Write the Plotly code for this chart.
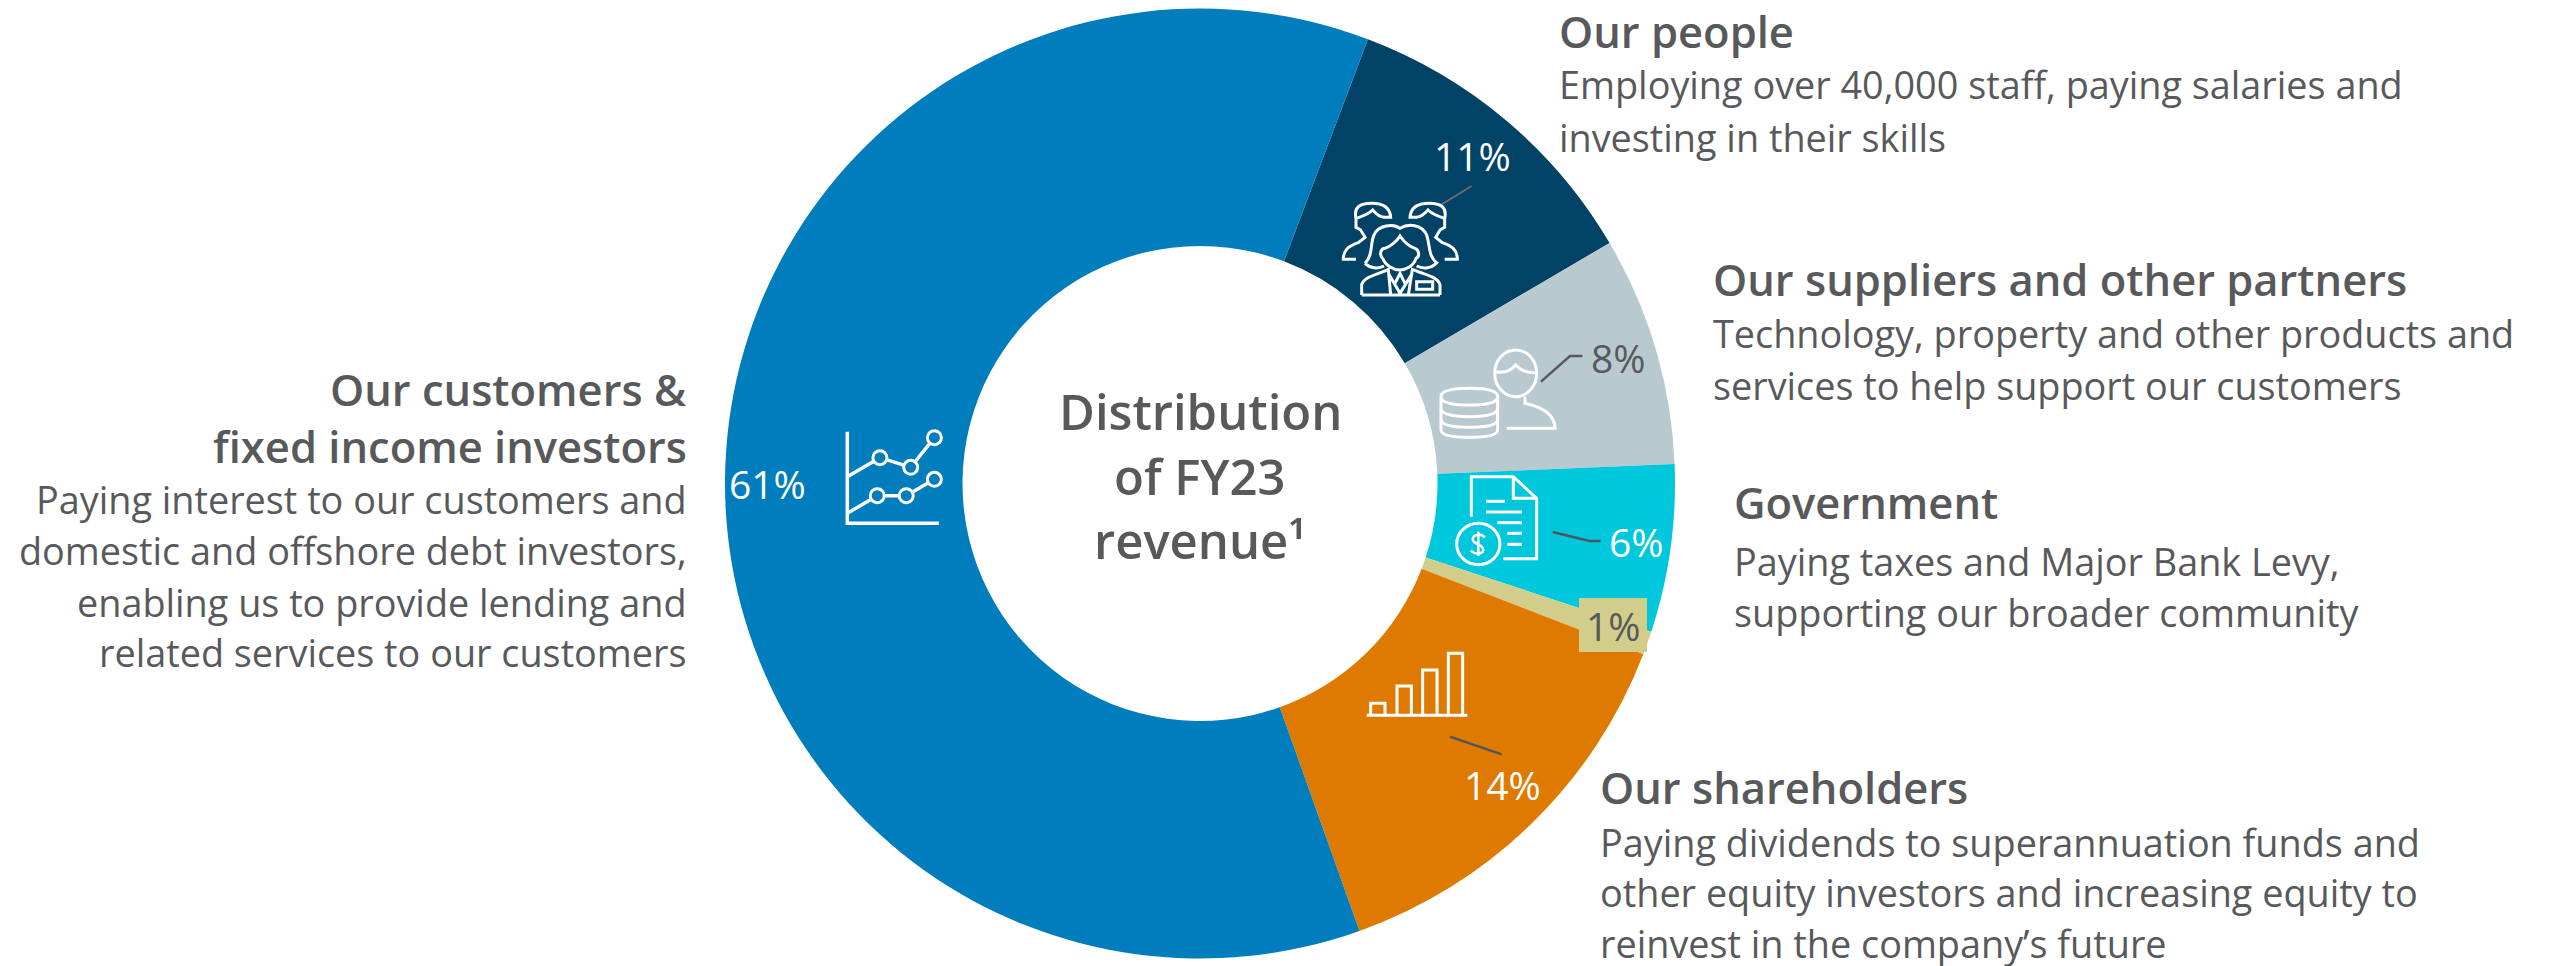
import re
import plotly.graph_objects as go

W, H = 2557, 966
categories = ["Our people", "Our suppliers and other partners", "Government", "Community", "Our shareholders", "Our customers & fixed income investors"]
values = [10.8, 7.8, 5.7, 0.8, 13.7, 61.2]
colors = ["#014367", "#B9C9D0", "#00C8DC", "#D3CD8B", "#DF7A00", "#007DBC"]
START_ANGLE = 20.7
TXT = "#58595B"
FONT = "Open Sans"
HEAD, BODY = 43.5, 37.8

def X(x): return x / W
def Y(y): return 1 - y / H

fig = go.Figure(go.Pie(
    labels=categories, values=values, sort=False, direction="clockwise", rotation=START_ANGLE,
    hole=0.5, textinfo="none", hoverinfo="label+percent",
    marker=dict(colors=colors, line=dict(width=0)),
    domain=dict(x=[X(725), X(1675)], y=[Y(958.5), Y(8.5)]), showlegend=False))

ann, shp = [], []

def text(s, x, y, size, color=TXT, anchor="left", weight=400):
    ann.append(dict(text=s, x=X(x), y=Y(y), xref="paper", yref="paper", xanchor=anchor, yanchor="middle",
                    showarrow=False, align=anchor, font=dict(size=size, color=color, family=FONT, weight=weight),
                    borderpad=0, borderwidth=0))

headings = [
    ("Our people", 1559, 32, "left"),
    ("Our suppliers and other partners", 1713, 279, "left"),
    ("Government", 1734, 503, "left"),
    ("Our shareholders", 1600, 787, "left"),
    ("Our customers &", 687, 389, "right"),
    ("fixed income investors", 687, 446, "right"),
]
bodies = [
    ("Employing over 40,000 staff, paying salaries and", 1559, 85, "left"),
    ("investing in their skills", 1559, 137, "left"),
    ("Technology, property and other products and", 1713, 334, "left"),
    ("services to help support our customers", 1713, 385, "left"),
    ("Paying taxes and Major Bank Levy,", 1734, 561, "left"),
    ("supporting our broader community", 1734, 612, "left"),
    ("Paying dividends to superannuation funds and", 1600, 842, "left"),
    ("other equity investors and increasing equity to", 1600, 892, "left"),
    ("reinvest in the company\u2019s future", 1600, 943, "left"),
    ("Paying interest to our customers and", 687, 499, "right"),
    ("domestic and offshore debt investors,", 687, 550, "right"),
    ("enabling us to provide lending and", 687, 602, "right"),
    ("related services to our customers", 687, 652, "right"),
]
for s, x, y, a in headings: text(s, x, y, HEAD, anchor=a, weight=600)
for s, x, y, a in bodies: text(s, x, y, BODY, anchor=a)
text("Distribution", 1200, 411, 49, anchor="center", weight=600)
text("of FY23", 1200, 476, 49, anchor="center", weight=600)
text("revenue\u00b9", 1200, 540, 49, anchor="center", weight=600)

def path(s, ox, oy, sx, sy, color="white", width=3, fill="rgba(0,0,0,0)"):
    def rep(m):
        return f"{X(ox + float(m[1]) / sx):.5f},{Y(oy + float(m[2]) / sy):.5f}"
    shp.append(dict(type="path", xref="paper", yref="paper", path=re.sub(r"(-?[\d.]+),(-?[\d.]+)", rep, s),
                    line=dict(color=color, width=width), fillcolor=fill, layer="above"))

def ell(cx, cy, rx, ry, color="white", width=3, fill="rgba(0,0,0,0)"):
    shp.append(dict(type="circle", xref="paper", yref="paper", x0=X(cx - rx), x1=X(cx + rx), y0=Y(cy + ry), y1=Y(cy - ry),
                    line=dict(color=color, width=width), fillcolor=fill, layer="above"))

BLUE, NAVY, GREY, CYAN, KHAKI, ORANGE = colors[5], colors[0], colors[1], colors[2], colors[3], colors[4]

c1 = (1250, 0, 3, 3)
path("M 665,558 L 540,635", *c1, color="#6b6b6b", width=2)
for flip in (False, True):
    f = (lambda x: 902 - x) if flip else (lambda x: x)
    path(f"M {f(318)},655 C {f(310)},622 {f(330)},610 {f(365)},610 C {f(400)},610 {f(420)},625 {f(422)},652 "
         f"L {f(402)},652 C {f(385)},650 {f(375)},638 {f(368)},630 C {f(352)},645 {f(335)},650 {f(318)},655 "
         f"L {f(318)},682 L {f(332)},690 L {f(345)},712 L {f(325)},728 "
         f"C {f(295)},738 {f(280)},750 {f(280)},778 L {f(318)},778",
         *c1, color="white", width=3, fill=NAVY)
path("M 345,790 C 370,765 360,730 372,705 C 385,675 430,670 450,685 C 475,670 515,672 530,705 "
     "C 540,735 535,770 560,788 C 545,805 520,808 500,798 M 345,790 C 360,805 385,808 402,798", *c1, width=3, fill=NAVY)
path("M 398,775 C 385,760 395,745 405,745 C 420,740 440,725 450,708 C 465,730 485,742 495,745 "
     "C 508,750 510,770 498,775 C 490,800 465,810 450,810 C 430,810 405,795 398,775", *c1, width=3)
path("M 335,885 L 335,855 C 340,830 380,825 415,808 L 422,885 M 570,885 L 570,855 C 565,830 525,825 487,808 L 475,885 "
     "M 335,885 L 570,885 M 415,820 L 450,880 L 487,820 M 435,850 L 450,820 L 465,850", *c1, width=3)
path("M 500,845 L 548,845 L 548,868 L 500,868 Z", *c1, width=3)

path("M 873,1145 L 960,1068 L 997,1068", *c1, color="#58595B", width=2.5)
ell(1250 + 797 / 3, 1120 / 3, 63 / 3, 70 / 3)
path("M 735,1115 Q 775,1122 797,1095 Q 820,1120 858,1118", *c1)
path("M 825,1190 L 825,1210 Q 915,1230 915,1285 L 770,1285", *c1)
path("M 573,1190 Q 573,1165 658,1165 Q 743,1165 743,1190 Q 743,1215 658,1215 Q 573,1215 573,1190 L 573,1290 "
     "Q 573,1312 658,1312 Q 743,1312 743,1290 L 743,1190", *c1)
path("M 573,1225 Q 573,1250 658,1250 Q 743,1250 743,1225", *c1)
path("M 573,1258 Q 573,1282 658,1282 Q 743,1282 743,1258", *c1)

c2 = (1250, 450, 3, 3)
path("M 664,200 L 664,80 L 790,80 L 860,145 L 860,326 L 760,326", *c2)
path("M 790,80 L 790,145 L 860,145", *c2)
for seg in ("708,154 L 765,154", "708,186 L 816,186", "742,218 L 816,218", "772,250 L 816,250", "772,283 L 816,283"):
    path("M " + seg, *c2)
ell(1250 + 685 / 3, 450 + 282 / 3, 65 / 3, 62 / 3)
path("M 705,262 Q 690,248 672,258 Q 660,272 682,282 Q 705,292 698,306 Q 680,318 662,302 M 685,245 L 685,318", *c2, width=2.5)
path("M 908,246 L 1018,273 L 1052,273", *c2, color="#4d5560", width=2.5)

shp.append(dict(type="rect", xref="paper", yref="paper", x0=X(1579), x1=X(1647), y0=Y(652), y1=Y(598),
                fillcolor=KHAKI, line=dict(width=0), layer="above"))

path("M 350,796 L 652,796", *c2)
for x0, x1, top in ((362, 405, 760), (441, 484, 708), (518, 561, 660), (595, 638, 610)):
    path(f"M {x0},796 L {x0},{top} L {x1},{top} L {x1},796", *c2)
path("M 600,860 L 755,913", *c2, color="#4d5560", width=2.5)

c3 = (700, 350, 2.24, 3)
path("M 330,245 L 330,520 L 535,520", *c3, width=3.5)
path("M 330,380 L 403,323 L 472,352 L 525,263", *c3, width=3.5)
path("M 330,490 L 397,437 L 462,437 L 525,388", *c3, width=3.5)
for x, y in ((403, 323), (472, 352), (525, 263), (397, 437), (462, 437), (525, 388)):
    ell(700 + x / 2.24, 350 + y / 3, 7, 7, width=3, fill=BLUE)

pct_labels = ["11%", "8%", "6%", "1%", "14%", "61%"]
pct_pos = [(1473, 156), (1618, 357), (1636, 541), (1613, 625), (1502, 784), (767, 483)]
pct_col = ["white", TXT, "white", TXT, "white", "white"]
for s, (x, y), c in zip(pct_labels, pct_pos, pct_col):
    text(s, x, y, 39, color=c, anchor="center")

fig.update_layout(width=W, height=H, margin=dict(l=0, r=0, t=0, b=0), paper_bgcolor="white", plot_bgcolor="white",
                  annotations=ann, shapes=shp, autosize=False)
fig.write_html("out.html", config=dict(displayModeBar=False),
               post_script="document.body.style.margin='0';document.documentElement.style.overflow='hidden';")
